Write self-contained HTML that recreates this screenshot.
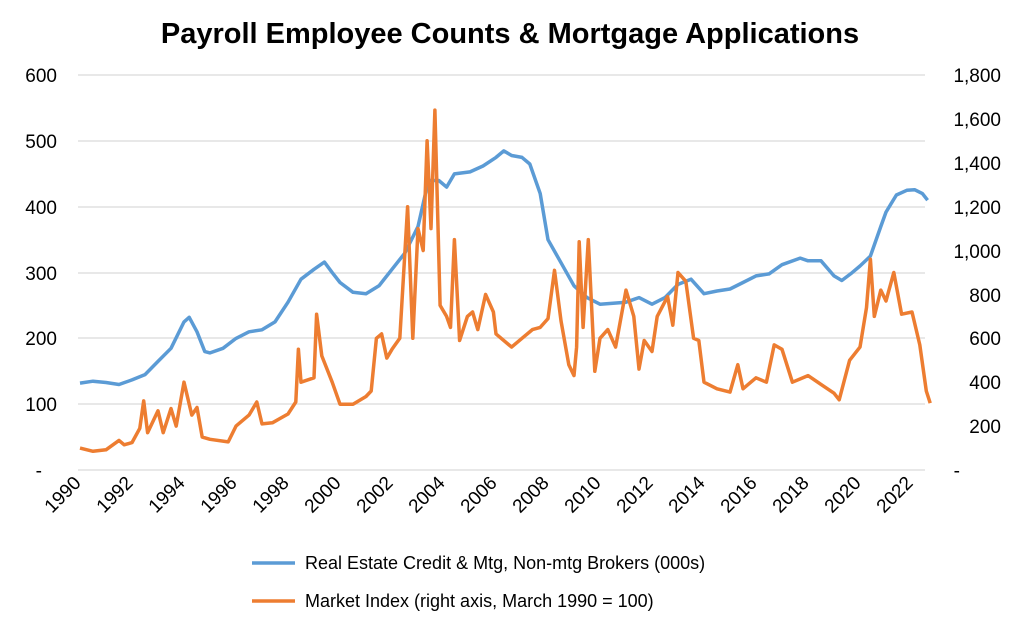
<!DOCTYPE html>
<html><head><meta charset="utf-8"><style>
body{margin:0;background:#fff;}
svg{display:block;font-family:"Liberation Sans",Arial,sans-serif;}
</style></head><body>
<svg id="s" width="1024" height="627" viewBox="0 0 1024 627" xmlns="http://www.w3.org/2000/svg">
<rect width="1024" height="627" fill="#fff"/>
<text x="510" y="43" text-anchor="middle" font-size="29" font-weight="bold">Payroll Employee Counts &amp; Mortgage Applications</text>
<g stroke="#d9d9d9" stroke-width="1.3">
<line x1="78" x2="925" y1="75" y2="75"/><line x1="78" x2="925" y1="141" y2="141"/>
<line x1="78" x2="925" y1="207" y2="207"/><line x1="78" x2="925" y1="273" y2="273"/>
<line x1="78" x2="925" y1="338" y2="338"/><line x1="78" x2="925" y1="404" y2="404"/>
<line x1="78" x2="925" y1="470" y2="470"/>
</g>
<g font-size="19" text-anchor="end">
<text x="57" y="82">600</text><text x="57" y="148">500</text><text x="57" y="214">400</text>
<text x="57" y="280">300</text><text x="57" y="345">200</text><text x="57" y="411">100</text>
<text x="42" y="477">-</text>
</g>
<g font-size="19" text-anchor="end">
<text x="1001" y="82">1,800</text><text x="1001" y="126">1,600</text><text x="1001" y="170">1,400</text>
<text x="1001" y="214">1,200</text><text x="1001" y="258">1,000</text><text x="1001" y="302">800</text>
<text x="1001" y="345">600</text><text x="1001" y="389">400</text><text x="1001" y="433">200</text>
<text x="960" y="477">-</text>
</g>
<g id="xl" font-size="19" text-anchor="end"></g>
<path id="b" fill="none" stroke="#5b9bd5" stroke-width="3.5" stroke-linejoin="round"/>
<path id="o" fill="none" stroke="#ed7d31" stroke-width="3.5" stroke-linejoin="round"/>
<line x1="252" x2="295" y1="563" y2="563" stroke="#5b9bd5" stroke-width="3.5"/>
<line x1="252" x2="295" y1="601" y2="601" stroke="#ed7d31" stroke-width="3.5"/>
<text x="305" y="569" font-size="18">Real Estate Credit &amp; Mtg, Non-mtg Brokers (000s)</text>
<text x="305" y="607" font-size="18">Market Index (right axis, March 1990 = 100)</text>
</svg>
<script>
var X=function(t){return 80+(t-1990)*26;};
var xl=document.getElementById('xl'),h='';
for(var y=1990;y<=2022;y+=2){var x=X(y)+2;h+='<text transform="translate('+x+',484) rotate(-45)">'+y+'</text>';}
xl.innerHTML=h;
var B=[1990,132,1990.5,135,1991,133,1991.5,130,1992,137,1992.5,145,1993,165,1993.5,185,1994,225,1994.2,232,1994.5,210,1994.8,180,1995,178,1995.5,185,1996,200,1996.5,210,1997,213,1997.5,225,1998,255,1998.5,290,1999,305,1999.4,316,1999.7,300,2000,285,2000.5,270,2001,268,2001.5,280,2002,305,2002.5,330,2003,370,2003.4,440,2003.8,440,2004.1,430,2004.4,450,2005,453,2005.5,462,2006,475,2006.3,485,2006.6,478,2007,475,2007.3,465,2007.7,420,2008,350,2008.5,315,2009,280,2009.5,262,2010,252,2011,255,2011.5,262,2012,252,2012.5,262,2013,282,2013.5,290,2014,268,2014.5,272,2015,275,2015.5,285,2016,295,2016.5,298,2017,312,2017.7,322,2018,318,2018.5,318,2019,295,2019.3,288,2019.7,300,2020,310,2020.4,325,2020.8,370,2021,392,2021.4,418,2021.8,425,2022.1,426,2022.4,420,2022.6,410];
var O=[1990,100,1990.5,85,1991,92,1991.5,135,1991.7,115,1992,125,1992.3,190,1992.45,315,1992.6,170,1993,270,1993.2,170,1993.5,280,1993.7,200,1994,400,1994.3,250,1994.5,285,1994.7,150,1995,140,1995.7,128,1996,200,1996.5,250,1996.8,310,1997,210,1997.4,215,1997.7,235,1998,255,1998.3,310,1998.4,550,1998.5,400,1999,420,1999.1,710,1999.3,520,1999.7,400,2000,300,2000.5,300,2001,335,2001.2,360,2001.4,600,2001.6,620,2001.8,510,2002,550,2002.3,600,2002.6,1200,2002.8,600,2003,1100,2003.2,1000,2003.35,1500,2003.5,1100,2003.65,1640,2003.85,750,2004.1,700,2004.25,650,2004.4,1050,2004.6,590,2004.9,700,2005.1,720,2005.3,640,2005.6,800,2005.9,720,2006,620,2006.6,560,2007,600,2007.4,640,2007.7,650,2008,690,2008.25,910,2008.5,680,2008.8,480,2009,430,2009.1,560,2009.2,1040,2009.35,650,2009.55,1050,2009.8,450,2010,600,2010.3,640,2010.6,560,2011,820,2011.3,700,2011.5,460,2011.7,590,2012,540,2012.2,700,2012.6,790,2012.8,660,2013,900,2013.3,860,2013.6,600,2013.8,590,2014,400,2014.5,370,2015,355,2015.3,480,2015.5,370,2016,420,2016.4,400,2016.7,570,2017,550,2017.4,400,2018,430,2018.5,390,2019,350,2019.2,320,2019.6,500,2020,560,2020.25,740,2020.4,960,2020.55,700,2020.8,820,2021,770,2021.3,900,2021.6,710,2022,720,2022.3,570,2022.55,360,2022.7,305];
function P(a,f){var s='';for(var i=0;i<a.length;i+=2){s+=(i?'L':'M')+X(a[i]).toFixed(1)+','+f(a[i+1]).toFixed(1);}return s;}
document.getElementById('b').setAttribute('d',P(B,function(v){return 470-v*0.658;}));
document.getElementById('o').setAttribute('d',P(O,function(v){return 470-v*0.21944;}));
</script>
</body></html>
